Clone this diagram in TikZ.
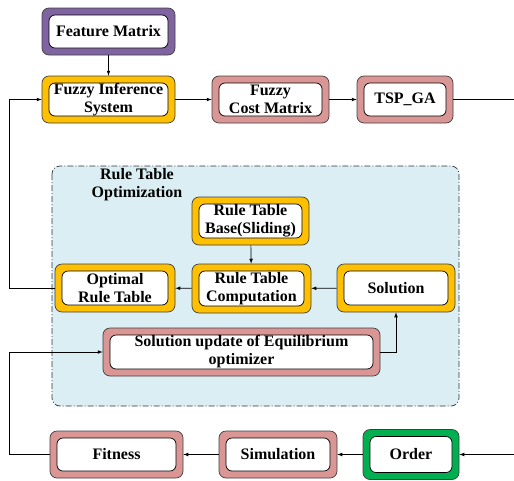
\documentclass[tikz,border=0pt]{standalone}
\usepackage{fontspec}
\setmainfont{Liberation Serif}

\definecolor{featpurple}{HTML}{8064A2}
\definecolor{fisgold}{HTML}{FFC000}
\definecolor{costpink}{HTML}{D99694}
\definecolor{ordgreen}{HTML}{00B050}
\definecolor{regionblue}{HTML}{DAEEF3}

\tikzset{
  block/.style={rectangle, rounded corners=7pt, draw=black!75, line width=0.7pt, fill=#1,
    text centered, align=center, inner sep=0pt,
    font=\fontsize{16}{18}\selectfont\bfseries,
    path picture={\draw[black, line width=0.7pt, fill=white, rounded corners=6pt]
      ([shift={(7pt,-7pt)}]path picture bounding box.north west) rectangle
      ([shift={(-7pt,7pt)}]path picture bounding box.south east);}},
}

\begin{document}
\begin{tikzpicture}[x=1pt, y=-1pt, >=latex, line width=0.7pt]
  \useasboundingbox (0,0) rectangle (514,480);

  % Rule table optimization region
  \draw[dash pattern=on 6pt off 2pt on 1pt off 2pt, draw=black!80, fill=regionblue, rounded corners=8pt] (52,166) rectangle (459,406);
  \node (title) at (137,185) [align=center, font=\fontsize{16}{18}\selectfont\bfseries] {Rule Table\\Optimization};

  % Top row
  \node (feat) at (108.5,31.5) [block=featpurple, minimum width=133pt, minimum height=47pt] {Feature Matrix};
  \node (fis) at (108.5,99.5) [block=fisgold, minimum width=133pt, minimum height=47pt] {Fuzzy Inference\\System};
  \node (fcm) at (270.5,99.5) [block=costpink, minimum width=117pt, minimum height=47pt] {Fuzzy\\Cost Matrix};
  \node (tsp) at (405,99.5) [block=costpink, minimum width=96pt, minimum height=47pt] {TSP\_GA};
  \coordinate (tspout) at (514,99.5);

  % Inside the region
  \node (base) at (250.5,221) [block=fisgold, minimum width=117pt, minimum height=48pt] {Rule Table\\Base(Sliding)};
  \node (comp) at (251.5,288.5) [block=fisgold, minimum width=119pt, minimum height=49pt] {Rule Table\\Computation};
  \node (opt) at (115,288) [block=fisgold, minimum width=120pt, minimum height=48pt] {Optimal\\Rule Table};
  \node (sol) at (396,288) [block=fisgold, minimum width=118pt, minimum height=48pt] {Solution};
  \node (upd) at (241.5,352) [block=costpink, minimum width=277pt, minimum height=48pt] {Solution update of Equilibrium\\optimizer};

  % Bottom row
  \node (fit) at (116.5,454.5) [block=costpink, minimum width=133pt, minimum height=47pt] {Fitness};
  \node (sim) at (278,454.5) [block=costpink, minimum width=118pt, minimum height=47pt] {Simulation};
  \node (ord) at (411,454.5) [block=ordgreen, minimum width=96pt, minimum height=50pt] {Order};
  \coordinate (ordin) at (514,454.5);

  % Connectors
  \draw[->] (feat) -- (fis);
  \draw[->] (fis) -- (fcm);
  \draw[->] (fcm) -- (tsp);
  \draw (tsp) -- (tspout);
  \draw[->] (base) -- (comp);
  \draw[->] (comp) -- (opt);
  \draw[->] (sol) -- (comp);
  \draw[->] (opt.west) -- ++(-45,0) |- (fis.west);
  \draw[->] (upd.east) -| (sol.south);
  \draw[->] (fit.west) -- ++(-40,0) |- (upd.west);
  \draw[->] (ordin) -- (ord);
  \draw[->] (ord) -- (sim);
  \draw[->] (sim) -- (fit);

\end{tikzpicture}
\end{document}
